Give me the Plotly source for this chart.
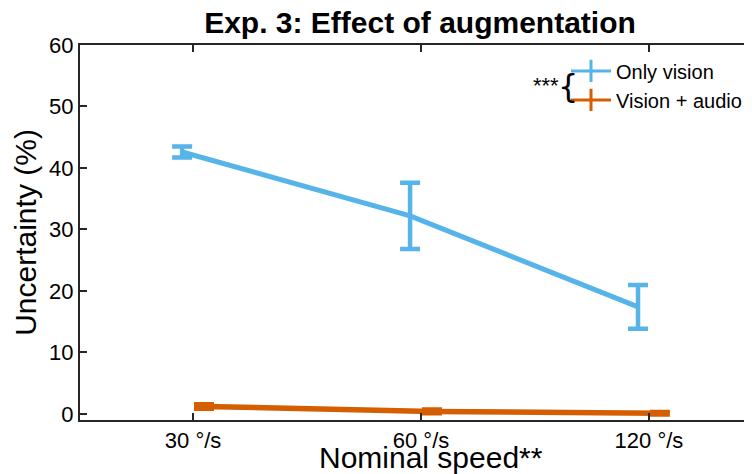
import plotly.graph_objects as go

# ---- data ----
categories = ["30 °/s", "60 °/s", "120 °/s"]
vision_only = [42.6, 32.2, 17.4]
vision_only_err = [0.9, 5.4, 3.55]
vision_audio = [1.2, 0.4, 0.1]
vision_audio_err = [0.35, 0.3, 0.2]
series_names = ["Only vision", "Vision + audio"]
y_ticks = [0, 10, 20, 30, 40, 50, 60]

BLUE = "#56B4E9"
ORANGE = "#D55E00"
AXIS = "#262626"
FONT = "Liberation Sans, Arial, sans-serif"
DODGE = 0.048

idx = list(range(len(categories)))

fig = go.Figure()
for xs, ys, errs, color, lw in [
    ([i - DODGE for i in idx], vision_only, vision_only_err, BLUE, 5),
    ([i + DODGE for i in idx], vision_audio, vision_audio_err, ORANGE, 5.5),
]:
    fig.add_trace(go.Scatter(
        x=xs, y=ys, mode="lines", showlegend=False,
        line=dict(color=color, width=lw),
        error_y=dict(type="data", array=errs, visible=True,
                     color=color, thickness=4.5, width=10),
    ))

# legend entries
for name, color in zip(series_names, [BLUE, ORANGE]):
    fig.add_trace(go.Scatter(
        x=[None], y=[None], name=name, mode="lines+markers",
        line=dict(color=color, width=3),
        marker=dict(symbol="line-ns-open", size=18, color=color,
                    line=dict(width=3, color=color)),
    ))

fig.update_layout(
    width=752, height=474,
    margin=dict(l=72, r=8, t=37, b=62, autoexpand=False),
    paper_bgcolor="white", plot_bgcolor="white",
    font=dict(family=FONT, color="#000000"),
    title=dict(text="<b>Exp. 3: Effect of augmentation</b>",
               x=412 / 752, xanchor="center", y=1 - 14 / 474, yanchor="middle",
               font=dict(size=30, family=FONT, color="#000000")),
    showlegend=True,
    legend=dict(x=(566 - 80) / 672, xanchor="left", y=0.983, yanchor="top",
                bgcolor="rgba(0,0,0,0)", borderwidth=0,
                font=dict(size=20, family=FONT, color="#000000"),
                tracegroupgap=0, itemwidth=40),
    xaxis=dict(
        range=[-0.496, 2.452], tickmode="array", tickvals=idx, ticktext=categories,
        showline=True, linecolor=AXIS, linewidth=2, mirror="ticks",
        ticks="inside", ticklen=7, tickwidth=2, tickcolor=AXIS,
        showgrid=False, zeroline=False, automargin=False,
        tickfont=dict(size=22, family=FONT, color="#000000"),
    ),
    yaxis=dict(
        range=[-1, 60], tickmode="array", tickvals=y_ticks,
        showline=True, linecolor=AXIS, linewidth=2, mirror=False,
        ticks="inside", ticklen=7, tickwidth=2, tickcolor=AXIS,
        showgrid=False, zeroline=False, automargin=False,
        tickfont=dict(size=22, family=FONT, color="#000000"),
        title=dict(text="Uncertainty (%)", font=dict(size=30, family=FONT, color="#000000"),
                   standoff=4),
    ),
)

# x-axis title (placed as annotation to sit closer to the tick labels)
fig.add_annotation(text="Nominal speed**", xref="paper", yref="paper",
                   x=(423 - 72) / 672, y=-(449 - 412) / 375, xanchor="center", yanchor="middle",
                   showarrow=False, font=dict(size=30, family=FONT, color="#000000"))

fig.add_annotation(text="***", xref="paper", yref="paper",
                   x=(561 - 80) / 672, y=(420 - 86) / 375, xanchor="right", yanchor="middle",
                   showarrow=False, font=dict(size=22, family=FONT, color="#000000"))
fig.add_annotation(text="{", xref="paper", yref="paper",
                   x=(556 - 80) / 672, y=(420 - 86) / 375, xanchor="left", yanchor="middle",
                   showarrow=False, font=dict(size=32, family="DejaVu Sans, sans-serif", color="#000000"))

fig.write_html("out.html")
